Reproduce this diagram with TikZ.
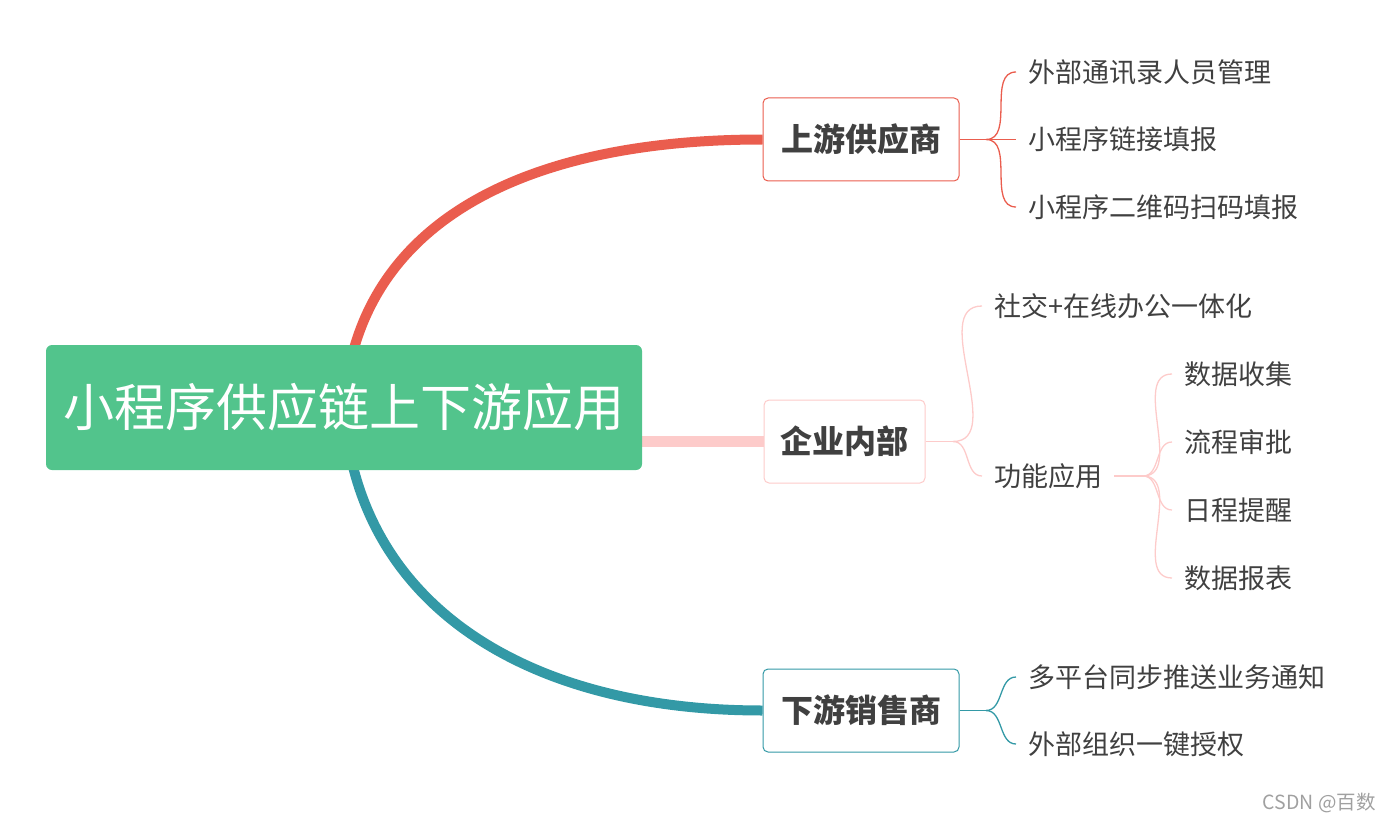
\documentclass[tikz,border=0pt]{standalone}
\usepackage{fontspec}
\setmainfont{Noto Sans CJK SC}
\usetikzlibrary{backgrounds,calc}
\definecolor{cRed}{HTML}{EA5D4E}
\definecolor{cPink}{HTML}{FDCBCA}
\definecolor{cTeal}{HTML}{3399A6}
\definecolor{cGreen}{HTML}{52C48C}
\definecolor{cText}{HTML}{404040}
\definecolor{cMark}{HTML}{A0A0A0}
\tikzset{
  rootbox/.style={fill=cGreen, draw=none, rounded corners=6pt, minimum width=596pt, minimum height=125pt,
    text=white, font=\fontsize{51}{58}\selectfont, inner sep=0pt},
  topicbox/.style={fill=white, line width=1pt, rounded corners=5pt, minimum height=83pt, inner xsep=16.5pt,
    text=cText, font=\fontsize{32}{38}\selectfont\bfseries},
  leaf/.style={anchor=west, inner xsep=12pt, inner ysep=2pt, text=cText, font=\fontsize{27}{32}\selectfont},
  mainline/.style={line width=10pt, line cap=butt},
  thinline/.style={line width=1.3pt},
}
\begin{document}
\begin{tikzpicture}[x=1pt,y=-1pt]
\useasboundingbox (0,0) rectangle (1391,821);
% main nodes
\node[rootbox] (root) at (344,407.5) {小程序供应链上下游应用};
\node[topicbox, draw=cRed, minimum width=196pt] (up) at (861,139.5) {上游供应商};
\node[topicbox, draw=cPink] (mid) at (844.5,441.5) {企业内部};
\node[topicbox, draw=cTeal, minimum width=196pt] (down) at (861,710.5) {下游销售商};
% leaves
\node[leaf] (u1) at (1016,72) {外部通讯录人员管理};
\node[leaf] (u2) at (1016,139.5) {小程序链接填报};
\node[leaf] (u3) at (1016,207) {小程序二维码扫码填报};
\node[leaf] (m1) at (982,306) {社交+在线办公一体化};
\node[leaf] (m2) at (982,476) {功能应用};
\node[leaf] (f1) at (1172,374) {数据收集};
\node[leaf] (f2) at (1172,442) {流程审批};
\node[leaf] (f3) at (1172,510) {日程提醒};
\node[leaf] (f4) at (1172,578) {数据报表};
\node[leaf] (d1) at (1016,677) {多平台同步推送业务通知};
\node[leaf] (d2) at (1016,744) {外部组织一键授权};
\node[anchor=east, inner sep=0pt, text=cMark, font=\fontsize{19.5}{23}\selectfont] (mark) at (1376,803) {CSDN @百数};
% junctions
\coordinate (uj) at (986,139.5);
\coordinate (mj) at (953,441.5);
\coordinate (fj) at (1143,476);
\coordinate (dj) at (986,710.5);
\begin{pgfonlayer}{background}
\draw[mainline, cRed] (root.center) .. controls (356,225) and (520,139.5) .. (up.west);
\draw[mainline, cTeal] (root.center) .. controls (356,600) and (520,710.5) .. (down.west);
\draw[line width=11pt, cPink] (root.east |- mid.west) -- (mid.west);
\end{pgfonlayer}
% thin connectors
\draw[thinline, cRed] (up.east) -- (uj) -- (u2.west);
\draw[thinline, cRed] (uj) to[out=0,in=180] (u1.west);
\draw[thinline, cRed] (uj) to[out=0,in=180] (u3.west);
\draw[thinline, cPink] (mid.east) -- (mj);
\draw[thinline, cPink] (mj) to[out=0,in=180] (m1.west);
\draw[thinline, cPink] (mj) to[out=0,in=180] (m2.west);
\draw[thinline, cPink] (m2.east) -- (fj);
\draw[thinline, cPink] (fj) to[out=0,in=180] (f1.west);
\draw[thinline, cPink] (fj) to[out=0,in=180] (f2.west);
\draw[thinline, cPink] (fj) to[out=0,in=180] (f3.west);
\draw[thinline, cPink] (fj) to[out=0,in=180] (f4.west);
\draw[thinline, cTeal] (down.east) -- (dj);
\draw[thinline, cTeal] (dj) to[out=0,in=180] (d1.west);
\draw[thinline, cTeal] (dj) to[out=0,in=180] (d2.west);
\end{tikzpicture}
\end{document}
